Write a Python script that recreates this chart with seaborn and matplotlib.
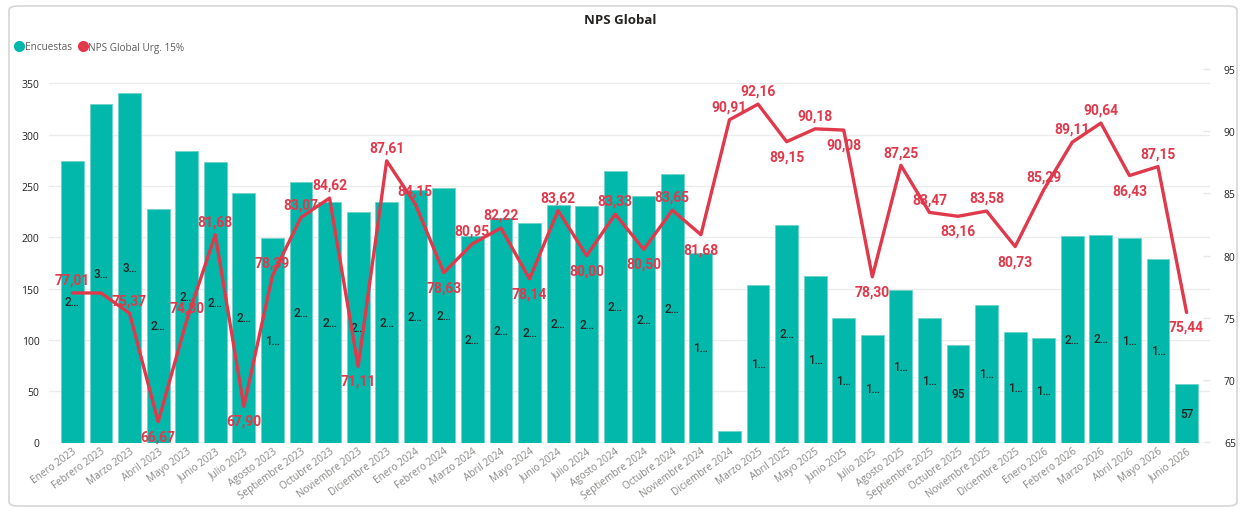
import numpy as np
import pandas as pd
import matplotlib
matplotlib.use("Agg")
import matplotlib.pyplot as plt
import seaborn as sns
from matplotlib.patches import FancyBboxPatch
from matplotlib.lines import Line2D

# ---------------- data ----------------
meses = [
    "Enero 2023", "Febrero 2023", "Marzo 2023", "Abril 2023", "Mayo 2023", "Junio 2023",
    "Julio 2023", "Agosto 2023", "Septiembre 2023", "Octubre 2023", "Noviembre 2023",
    "Diciembre 2023", "Enero 2024", "Febrero 2024", "Marzo 2024", "Abril 2024",
    "Mayo 2024", "Junio 2024", "Julio 2024", "Agosto 2024", "Septiembre 2024",
    "Octubre 2024", "Noviembre 2024", "Diciembre 2024", "Marzo 2025", "Abril 2025",
    "Mayo 2025", "Junio 2025", "Julio 2025", "Agosto 2025", "Septiembre 2025",
    "Octubre 2025", "Noviembre 2025", "Diciembre 2025", "Enero 2026", "Febrero 2026",
    "Marzo 2026", "Abril 2026", "Mayo 2026", "Junio 2026",
]
encuestas = [
    274, 330, 340, 227, 284, 273, 243, 199, 254, 234, 225, 234,
    246, 248, 201, 219, 214, 231, 230, 264, 240, 262, 185, 11,
    153, 212, 162, 121, 105, 149, 121, 95, 134, 108, 102, 201,
    202, 199, 179, 57,
]
nps = [
    77.01, 77.00, 75.37, 66.67, 74.80, 81.68, 67.90, 78.39, 83.07, 84.62, 71.11, 87.61,
    84.15, 78.63, 80.95, 82.22, 78.14, 83.62, 80.00, 83.33, 80.50, 83.65, 81.68, 90.91,
    92.16, 89.15, 90.18, 90.08, 78.30, 87.25, 83.47, 83.16, 83.58, 80.73, 85.29, 89.11,
    90.64, 86.43, 87.15, 75.44,
]
# label placement for NPS values: 'a' above, 'b' below, '' hidden
nps_label_pos = [
    "a", "", "a", "b", "a", "a", "b", "a", "a", "a", "b", "a",
    "a", "b", "a", "a", "b", "a", "b", "a", "b", "a", "b", "a",
    "a", "b", "a", "b", "b", "a", "a", "b", "a", "b", "a", "a",
    "a", "b", "a", "b",
]
serie_barras = "Encuestas"
serie_linea = "NPS Global Urg. 15%"
titulo = "NPS Global"

# ---------------- style ----------------
TEAL = "#01B8AA"
RED = "#E0394C"
GRID = "#EBEBEB"
TXT = "#252423"
GRAY = "#605E5C"

sns.set_theme(style="white")
plt.rcParams["font.family"] = ["Open Sans", "DejaVu Sans"]

W, H = 1240, 510
fig = plt.figure(figsize=(W / 100, H / 100), dpi=100)
fig.patch.set_facecolor("white")

# card frame
card = FancyBboxPatch((9 / W, 1 - 507 / H), (1237 - 9) / W, (507 - 7) / H,
                      boxstyle="round,pad=0,rounding_size=0.008",
                      transform=fig.transFigure, facecolor="white",
                      edgecolor="#D6D6D6", linewidth=1.2, zorder=0)
fig.add_artist(card)

left, right, top, bottom = 49, 1210, 69.8, 443.5
ax = fig.add_axes([left / W, 1 - bottom / H, (right - left) / W, (bottom - top) / H])
ax.set_facecolor("none")

df = pd.DataFrame({"mes": meses, "encuestas": encuestas, "nps": nps})
df["x"] = np.arange(len(df))

sns.barplot(data=df, x="mes", y="encuestas", order=meses, color=TEAL, saturation=1,
            width=0.8, ax=ax, edgecolor="#6FD3CB", linewidth=0.6, zorder=2)
ax.set_ylim(0, 364)
ax.set_yticks(np.arange(0, 351, 50))
ax.yaxis.grid(True, color=GRID, linewidth=1, zorder=0)
ax.set_axisbelow(True)
ax.set_xlabel("")
ax.set_ylabel("")
for s in ax.spines.values():
    s.set_visible(False)
ax.tick_params(axis="y", length=0, pad=7, labelsize=7.5, labelcolor=TXT)
ax.tick_params(axis="x", length=0, pad=2, labelsize=7.2, labelcolor="#8A8886")
ax.set_xticks(np.arange(len(meses)))
ax.set_xticklabels(meses, rotation=36, ha="right", rotation_mode="anchor")

# bar data labels (truncated like the original; hidden when the bar is too short)
for i, v in enumerate(encuestas):
    if v < 25:
        continue
    s = str(v)
    lab = s if len(s) <= 2 else s[0] + "\u2026"
    ax.text(i, v / 2, lab, ha="center", va="center", fontsize=8.5,
            family=["Roboto", "DejaVu Sans"], fontweight="medium", color=TXT, zorder=3)

ax2 = ax.twinx()
sns.lineplot(data=df, x="x", y="nps", ax=ax2, color=RED, linewidth=2.4, zorder=4)
ax2.set_ylim(65, 95)
ax2.set_yticks(np.arange(65, 96, 5))
ax2.set_xlabel("")
ax2.set_ylabel("")
for s in ax2.spines.values():
    s.set_visible(False)
ax2.tick_params(axis="y", length=5, direction="in", color="#E6E6E6", width=1,
                pad=10, labelsize=7.5, labelcolor=TXT)
ax.set_xlim(-0.82, len(meses) - 1 + 0.82)

for i, (v, p) in enumerate(zip(nps, nps_label_pos)):
    if not p:
        continue
    dy = 9.5 if p == "a" else -10.5
    ax2.annotate(f"{v:.2f}".replace(".", ","), (i, v), xytext=(0, dy),
                 textcoords="offset points", ha="center", va="center",
                 fontsize=10, fontweight="bold", color=RED,
                 family=["Roboto", "DejaVu Sans"], zorder=5)

# title
fig.text(620 / W, 1 - 20 / H, titulo, ha="center", va="center", fontsize=9.5,
         fontweight="bold", color=TXT)

# legend
handles = [
    Line2D([], [], marker="o", linestyle="", markersize=7, markerfacecolor=TEAL,
           markeredgecolor=TEAL, label=serie_barras),
    Line2D([], [], marker="o", linestyle="", markersize=7, markerfacecolor=RED,
           markeredgecolor=RED, label=serie_linea),
]
fig.legend(handles=handles, loc="center left", bbox_to_anchor=(14 / W, 1 - 48 / H),
           ncol=2, frameon=False, fontsize=7.2, labelcolor=GRAY, handletextpad=0.05,
           columnspacing=0.6, handlelength=1.0, borderaxespad=0, borderpad=0)

fig.savefig("out.png", dpi=100, facecolor="white")
